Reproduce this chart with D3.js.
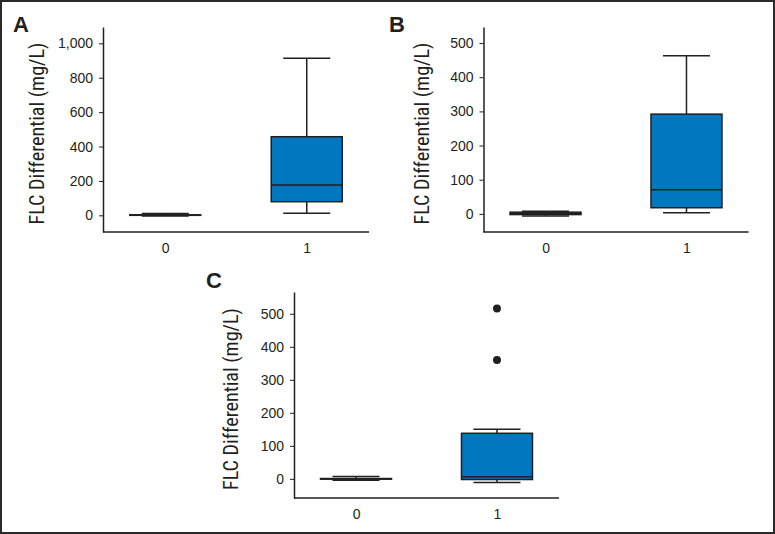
<!DOCTYPE html>
<html><head><meta charset="utf-8">
<script src="https://cdn.jsdelivr.net/npm/d3@7"></script>
<style>
body{margin:0;background:#fff;}
svg{display:block;font-family:"Liberation Sans",Arial,sans-serif;}
</style></head>
<body><svg id="c" width="775" height="534"></svg>
<script>
// ---- data ----
const categories = ["0", "1"];
const panelLabels = ["A", "B", "C"];
const yTitle = "FLC Differential (mg/L)";
// box stats per panel: [whiskerLow, q1, median, q3, whiskerHigh]
const statsA = [[-4, 0, 1, 3, 10], [12, 79, 176, 457, 913]];
const statsB = [[-6, -2, 1, 5, 8], [3, 18, 71, 292, 463]];
const statsC = [[-4, -1, 0, 1, 7], [-11, -2, 6, 138, 150]];
const outliersC = [[], [360, 516]];
const ticksA = [0, 200, 400, 600, 800, 1000];
const ticksB = [0, 100, 200, 300, 400, 500];
const ticksC = [0, 100, 200, 300, 400, 500];
const domainA = [-97, 1095];
const domainB = [-53, 547];
const domainC = [-58, 566];

const svg = d3.select("#c");
const ink = "#231f20";
const fill = "#0077bf";

svg.append("rect").attr("x",1).attr("y",1).attr("width",773).attr("height",532)
  .attr("fill","none").attr("stroke","#2a2a2a").attr("stroke-width",2);

const panels = [
  {label:panelLabels[0], stats:statsA, out:[[],[]], ticks:ticksA, dom:domainA, fmt:d3.format(","),
   x0:103, x1:369, y0:27, y1:232, lx:13, ly:32, tx:37},
  {label:panelLabels[1], stats:statsB, out:[[],[]], ticks:ticksB, dom:domainB, fmt:d3.format("d"),
   x0:483.5, x1:748.5, y0:27, y1:232, lx:389, ly:32, tx:422},
  {label:panelLabels[2], stats:statsC, out:outliersC, ticks:ticksC, dom:domainC, fmt:d3.format("d"),
   x0:294, x1:559, y0:292, y1:498, lx:206, ly:288, tx:231}
];

panels.forEach(p => {
  const g = svg.append("g");
  const x = d3.scalePoint().domain(categories).range([p.x0, p.x1]).padding(0.44);
  const y = d3.scaleLinear().domain(p.dom).range([p.y1, p.y0]);

  // y axis
  const ya = g.append("g").attr("transform",`translate(${p.x0},0)`)
    .call(d3.axisLeft(y).tickValues(p.ticks).tickFormat(p.fmt).tickSize(4).tickPadding(6).tickSizeOuter(0));
  ya.select(".domain").attr("stroke",ink).attr("stroke-width",1.5);
  ya.selectAll(".tick line").attr("stroke",ink).attr("stroke-width",1);
  ya.selectAll(".tick text").attr("fill",ink).attr("font-size",14).attr("font-family","Liberation Sans, Arial, sans-serif");

  // x axis
  const xa = g.append("g").attr("transform",`translate(0,${p.y1})`)
    .call(d3.axisBottom(x).tickSize(0).tickPadding(11).tickSizeOuter(0));
  xa.select(".domain").attr("stroke",ink).attr("stroke-width",1.5)
    .attr("d",`M${p.x0},0H${p.x1}`);
  xa.selectAll(".tick text").attr("fill",ink).attr("font-size",14).attr("font-family","Liberation Sans, Arial, sans-serif");

  const boxW = 71, capW = 47;
  categories.forEach((c,i) => {
    const s = p.stats[i];
    const cx = x(c);
    // whisker
    g.append("line").attr("x1",cx).attr("x2",cx).attr("y1",y(s[0])).attr("y2",y(s[4]))
      .attr("stroke",ink).attr("stroke-width",1.5);
    [s[0], s[4]].forEach(v => g.append("line").attr("x1",cx-capW/2).attr("x2",cx+capW/2)
      .attr("y1",y(v)).attr("y2",y(v)).attr("stroke",ink).attr("stroke-width",1.5));
    g.append("rect").attr("x",cx-boxW/2).attr("width",boxW)
      .attr("y",y(s[3])).attr("height",Math.max(0.5,y(s[1])-y(s[3])))
      .attr("fill",fill).attr("stroke",ink).attr("stroke-width",1.5);
    g.append("line").attr("x1",cx-boxW/2).attr("x2",cx+boxW/2).attr("y1",y(s[2])).attr("y2",y(s[2]))
      .attr("stroke",ink).attr("stroke-width",1.5);
    p.out[i].forEach(v => g.append("circle").attr("cx",cx).attr("cy",y(v)).attr("r",4).attr("fill",ink));
  });

  // y title
  g.append("text").attr("transform",`translate(${p.tx},${(p.y0+p.y1)/2+4}) rotate(-90)`)
    .attr("text-anchor","middle").attr("font-size",20).attr("fill",ink)
    .attr("font-family","'Liberation Sans Narrow','Roboto Condensed','Liberation Sans',Arial,sans-serif")
    .attr("textLength",182).attr("lengthAdjust","spacingAndGlyphs")
    .attr("dy","0.35em")
    .text(yTitle);

  // panel label
  g.append("text").attr("x",p.lx).attr("y",p.ly).attr("font-size",22).attr("font-weight","bold")
    .attr("fill",ink).attr("font-family","Liberation Sans, Arial, sans-serif").text(p.label);
});
</script></body></html>
